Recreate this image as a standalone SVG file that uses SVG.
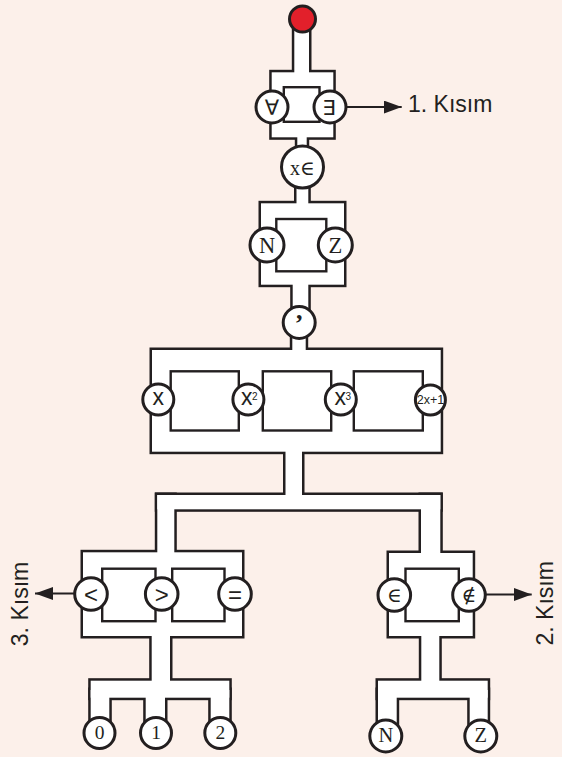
<svg xmlns="http://www.w3.org/2000/svg" width="562" height="757" viewBox="0 0 562 757">
<defs>
<style>
.k{fill:#231f20;stroke:#231f20;stroke-width:5;stroke-linejoin:miter}
.w{fill:#fff}
.h{fill:#fff;stroke:#231f20;stroke-width:2.4}
.c{fill:#fff;stroke:#231f20;stroke-width:3}
.ln{stroke:#231f20;stroke-width:2.2;fill:none}
.s{font-family:"Liberation Sans",Arial,sans-serif;fill:#231f20}
.r{font-family:"Liberation Serif","DejaVu Serif",serif;fill:#231f20}
.m{font-family:"DejaVu Sans","Liberation Sans",sans-serif;fill:#231f20}
text{text-anchor:middle}
</style>
<marker id="ah" markerUnits="userSpaceOnUse" markerWidth="18" markerHeight="14" refX="18" refY="6.5" orient="auto">
<path d="M0,0 L18,6.5 L0,13 z" fill="#231f20"/>
</marker>
<g id="pipes">
<rect x="294.3" y="25" width="14.7" height="50"/>
<rect x="271.7" y="72.3" width="61.6" height="65"/>
<rect x="297.3" y="132" width="9.4" height="20"/>
<rect x="296.5" y="180" width="11.8" height="26"/>
<rect x="261" y="203.3" width="83" height="81.4"/>
<rect x="292.7" y="280" width="15.6" height="30"/>
<rect x="292.3" y="330" width="13.4" height="24"/>
<rect x="152" y="350" width="288.7" height="101.7"/>
<rect x="285.5" y="448" width="16.5" height="52"/>
<rect x="157.3" y="495" width="283" height="14.3"/>
<rect x="157.3" y="495" width="17" height="60"/>
<rect x="421" y="495" width="19.3" height="61"/>
<rect x="83" y="552.3" width="159" height="83.7"/>
<rect x="389" y="553" width="83.7" height="83"/>
<rect x="151.7" y="630" width="18.3" height="55"/>
<rect x="90.7" y="680.7" width="138.6" height="17"/>
<rect x="90.7" y="690" width="18.6" height="35"/>
<rect x="145.7" y="690" width="19.3" height="35"/>
<rect x="210.7" y="690" width="18.6" height="35"/>
<rect x="421.3" y="630" width="18" height="55"/>
<rect x="378" y="680.7" width="109.7" height="17"/>
<rect x="378" y="690" width="18.7" height="35"/>
<rect x="469.7" y="690" width="18" height="35"/>
</g>
</defs>
<rect x="0" y="0" width="562" height="757" fill="#fcf0ea"/>

<g id="structure">
<use href="#pipes" class="k"/>
<use href="#pipes" class="w"/>
<rect class="h" x="283.8" y="87.2" width="35.7" height="34.6"/>
<rect class="h" x="276.3" y="219" width="50" height="52.3"/>
<rect class="h" x="170.7" y="371.3" width="68.1" height="59.2"/>
<rect class="h" x="262.8" y="371.3" width="68.4" height="59.2"/>
<rect class="h" x="353.8" y="371.3" width="69" height="59.2"/>
<rect class="h" x="102.2" y="568.7" width="53.3" height="52.5"/>
<rect class="h" x="172.2" y="568.7" width="52.3" height="52.5"/>
<rect class="h" x="405.5" y="568.7" width="53.3" height="52.5"/>
</g>

<g id="connectors">
<line class="ln" x1="347" y1="107" x2="401.7" y2="107" marker-end="url(#ah)"/>
<line class="ln" x1="486" y1="594.5" x2="531.7" y2="594.5" marker-end="url(#ah)"/>
<line class="ln" x1="74" y1="593.5" x2="35" y2="593.5" marker-end="url(#ah)"/>
</g>

<g id="start"><circle cx="302.5" cy="19" r="13" fill="#e2202b" stroke="#231f20" stroke-width="3"/></g>
<g id="n-forall"><circle class="c" cx="272" cy="107" r="16"/><text class="m" x="272" y="114.5" font-size="21">∀</text></g>
<g id="n-exists"><circle class="c" cx="330" cy="107" r="16"/><text class="m" x="329" y="114.5" font-size="21">∃</text></g>
<g id="n-xin"><circle class="c" cx="302.5" cy="167" r="21"/><text class="r" x="302.5" y="174.5" font-size="20">x∈</text></g>
<g id="n-N1"><circle class="c" cx="267" cy="245" r="17"/><text class="r" x="267" y="252.5" font-size="22.5">N</text></g>
<g id="n-Z1"><circle class="c" cx="335.3" cy="245" r="17"/><text class="r" x="335.3" y="252.5" font-size="22.5">Z</text></g>
<g id="n-comma"><circle class="c" cx="299.2" cy="322.5" r="16"/><text class="r" x="299.2" y="319" font-size="26" font-weight="bold">,</text></g>
<g id="n-x"><circle class="c" cx="158.3" cy="399.5" r="15.5"/><text class="s" x="158.3" y="405" font-size="23">x</text></g>
<g id="n-x2"><circle class="c" cx="248.4" cy="399.5" r="15.5"/><text class="s" x="241" y="405" font-size="23" style="text-anchor:start">x<tspan x="252" y="400" font-size="10">2</tspan></text></g>
<g id="n-x3"><circle class="c" cx="340.8" cy="399.5" r="15.5"/><text class="s" x="334.5" y="405" font-size="23" style="text-anchor:start">x<tspan x="345.5" y="400" font-size="10">3</tspan></text></g>
<g id="n-2x1"><circle class="c" cx="430.4" cy="400" r="15"/><text class="s" x="430.6" y="404" font-size="12.5">2x+1</text></g>
<g id="n-lt"><circle class="c" cx="91" cy="594" r="16.3"/><text class="s" x="91" y="602.5" font-size="24">&lt;</text></g>
<g id="n-gt"><circle class="c" cx="161.7" cy="594" r="16.3"/><text class="s" x="161.7" y="602.5" font-size="24">&gt;</text></g>
<g id="n-eq"><circle class="c" cx="235" cy="594" r="16.3"/><text class="s" x="235" y="602.5" font-size="24">=</text></g>
<g id="n-in"><circle class="c" cx="394.3" cy="595" r="16.3"/><text class="r" x="394.3" y="602" font-size="20">∈</text></g>
<g id="n-notin"><circle class="c" cx="469" cy="595" r="16.3"/><text class="r" x="469" y="602" font-size="20">∉</text></g>
<g id="n-0"><circle class="c" cx="99.5" cy="733" r="15.5"/><text class="r" x="99.5" y="739.3" font-size="19.5">0</text></g>
<g id="n-1"><circle class="c" cx="156" cy="733" r="15.5"/><text class="r" x="156" y="739.3" font-size="19.5">1</text></g>
<g id="n-2"><circle class="c" cx="220.3" cy="733" r="15.5"/><text class="r" x="220.3" y="739.3" font-size="19.5">2</text></g>
<g id="n-N2"><circle class="c" cx="385.8" cy="736" r="16"/><text class="r" x="385.8" y="742" font-size="20.5">N</text></g>
<g id="n-Z2"><circle class="c" cx="480.8" cy="736" r="16"/><text class="r" x="480.8" y="742" font-size="20.5">Z</text></g>

<g id="labels">
<text class="s" x="408" y="112" font-size="23" style="text-anchor:start">1. Kısım</text>
<text class="s" transform="translate(553,603.3) rotate(-90)" font-size="23">2. Kısım</text>
<text class="s" transform="translate(28.3,604) rotate(-90)" font-size="23">3. Kısım</text>
</g>
</svg>
